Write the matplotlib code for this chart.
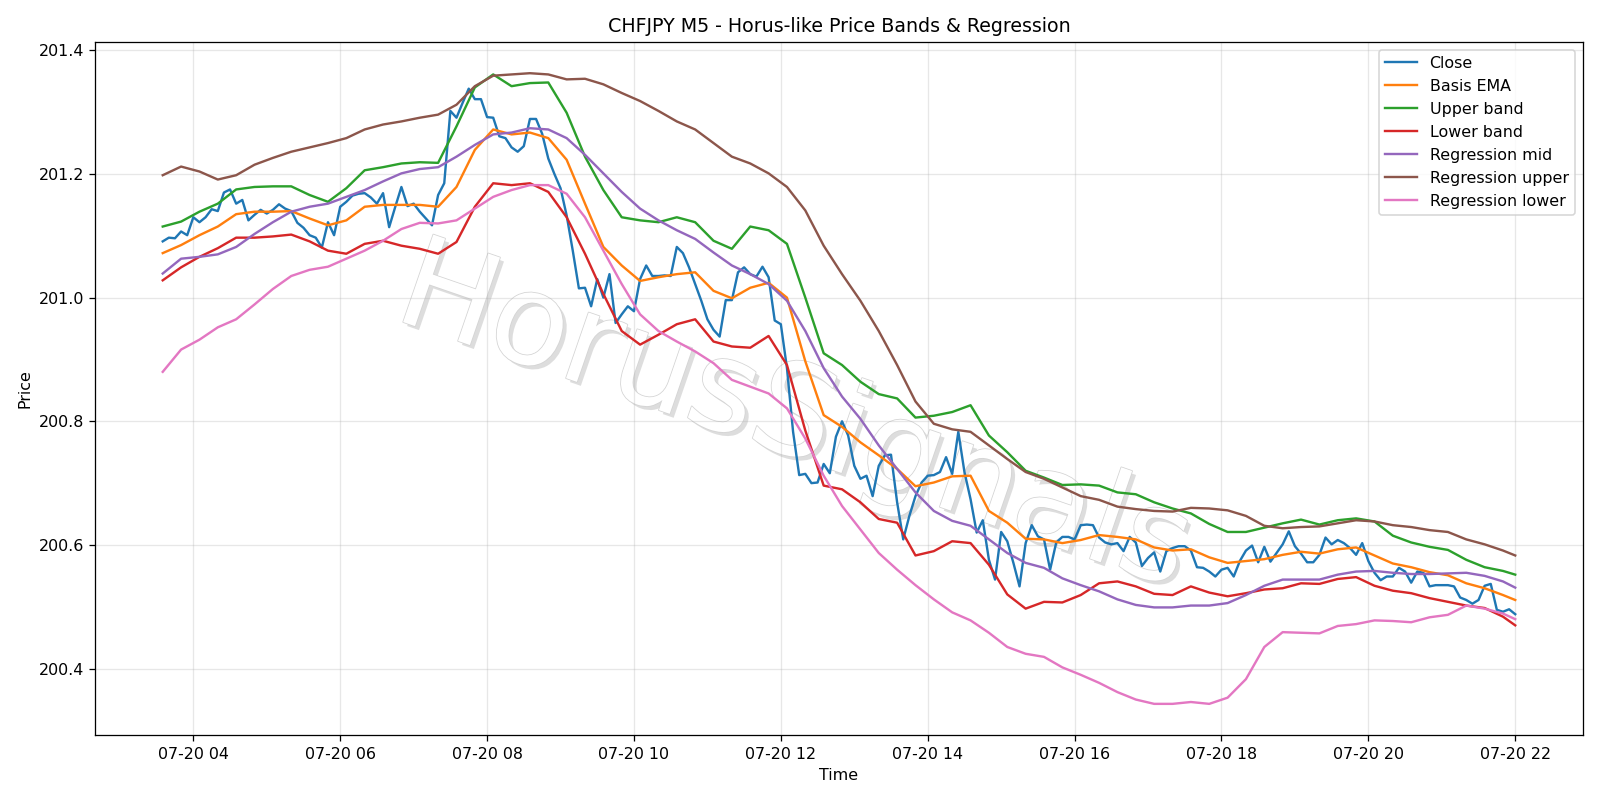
import matplotlib
matplotlib.use("Agg")
import matplotlib.pyplot as plt
import matplotlib.dates as mdates
import matplotlib.patheffects as pe
import pandas as pd

start = "2024-07-20 03:35"

close = [
    201.091, 201.097, 201.096, 201.107, 201.101, 201.130, 201.122, 201.130, 201.143, 201.140,
    201.170, 201.175, 201.152, 201.158, 201.125, 201.134, 201.142, 201.136, 201.142, 201.151,
    201.144, 201.140, 201.121, 201.113, 201.101, 201.097, 201.081, 201.122, 201.101, 201.147,
    201.155, 201.165, 201.168, 201.169, 201.162, 201.152, 201.169, 201.114, 201.147, 201.179,
    201.148, 201.152, 201.139, 201.128, 201.117, 201.166, 201.185, 201.302, 201.291, 201.315,
    201.338, 201.321, 201.321, 201.292, 201.291, 201.261, 201.258, 201.243, 201.236, 201.245,
    201.289, 201.289, 201.265, 201.225, 201.200, 201.177, 201.133, 201.076, 201.015, 201.016,
    200.986, 201.030, 201.000, 201.038, 200.959, 200.973, 200.986, 200.978, 201.030, 201.052,
    201.035, 201.035, 201.036, 201.035, 201.082, 201.072, 201.049, 201.022, 200.995, 200.965,
    200.948, 200.937, 200.996, 200.996, 201.041, 201.049, 201.038, 201.034, 201.050, 201.033,
    200.963, 200.957, 200.886, 200.783, 200.713, 200.715, 200.700, 200.701, 200.731, 200.716,
    200.775, 200.800, 200.777, 200.728, 200.707, 200.712, 200.679, 200.728, 200.745, 200.746,
    200.669, 200.609, 200.647, 200.679, 200.701, 200.712, 200.713, 200.718, 200.742, 200.715,
    200.783, 200.718, 200.674, 200.620, 200.640, 200.576, 200.544, 200.621, 200.606, 200.571,
    200.533, 200.603, 200.632, 200.614, 200.609, 200.560, 200.604, 200.613, 200.613, 200.609,
    200.632, 200.633, 200.632, 200.612, 200.604, 200.601, 200.603, 200.590, 200.613, 200.604,
    200.566, 200.579, 200.588, 200.557, 200.590, 200.595, 200.598, 200.598, 200.591, 200.564,
    200.563, 200.557, 200.549, 200.560, 200.563, 200.549, 200.574, 200.591, 200.599, 200.572,
    200.597, 200.573, 200.587, 200.601, 200.622, 200.598, 200.586, 200.572, 200.572, 200.584,
    200.612, 200.601, 200.608, 200.603, 200.595, 200.584, 200.603, 200.574, 200.555, 200.543,
    200.549, 200.549, 200.563, 200.557, 200.539, 200.557, 200.555, 200.533, 200.535, 200.535,
    200.535, 200.533, 200.515, 200.511, 200.505, 200.511, 200.534, 200.537, 200.495, 200.492,
    200.496, 200.488,
]

# bar indices (5-minute steps from start) at which the smooth series were read
band_idx = list(range(0, 220, 3)) + [221]

basis = [
    201.072, 201.085, 201.101, 201.115, 201.135, 201.139, 201.139, 201.140, 201.128, 201.117,
    201.125, 201.147, 201.150, 201.150, 201.150, 201.147, 201.179, 201.239, 201.272, 201.264,
    201.267, 201.258, 201.223, 201.152, 201.082, 201.052, 201.027, 201.033, 201.038, 201.041,
    201.011, 200.999, 201.016, 201.024, 201.000, 200.897, 200.810, 200.791, 200.766, 200.745,
    200.723, 200.695, 200.701, 200.711, 200.712, 200.655, 200.636, 200.610, 200.609, 200.603,
    200.608, 200.616, 200.613, 200.609, 200.596, 200.591, 200.593, 200.580, 200.571, 200.574,
    200.577, 200.584, 200.589, 200.586, 200.593, 200.596, 200.583, 200.570, 200.564, 200.556,
    200.551, 200.538, 200.530, 200.519, 200.511,
]

upper = [
    201.115, 201.123, 201.139, 201.152, 201.175, 201.179, 201.180, 201.180, 201.166, 201.155,
    201.177, 201.206, 201.211, 201.217, 201.219, 201.218, 201.277, 201.340, 201.361, 201.342,
    201.347, 201.348, 201.299, 201.228, 201.174, 201.130, 201.125, 201.122, 201.130, 201.122,
    201.092, 201.079, 201.115, 201.109, 201.087, 201.000, 200.910, 200.891, 200.864, 200.844,
    200.837, 200.806, 200.809, 200.815, 200.826, 200.777, 200.750, 200.720, 200.709, 200.697,
    200.698, 200.696, 200.685, 200.682, 200.669, 200.659, 200.651, 200.634, 200.621, 200.621,
    200.628, 200.635, 200.641, 200.633, 200.640, 200.643, 200.638, 200.615, 200.604, 200.597,
    200.592, 200.576, 200.564, 200.558, 200.552,
]

lower = [
    201.028, 201.049, 201.066, 201.080, 201.097, 201.097, 201.099, 201.102, 201.091, 201.076,
    201.071, 201.087, 201.092, 201.084, 201.079, 201.071, 201.090, 201.147, 201.185, 201.182,
    201.185, 201.171, 201.130, 201.071, 201.006, 200.946, 200.924, 200.940, 200.957, 200.965,
    200.929, 200.921, 200.919, 200.938, 200.891, 200.785, 200.696, 200.690, 200.669, 200.642,
    200.636, 200.583, 200.590, 200.606, 200.603, 200.568, 200.520, 200.497, 200.508, 200.507,
    200.519, 200.538, 200.541, 200.533, 200.521, 200.519, 200.533, 200.523, 200.517, 200.522,
    200.528, 200.530, 200.538, 200.537, 200.545, 200.548, 200.534, 200.526, 200.522, 200.514,
    200.508, 200.502, 200.498, 200.484, 200.470,
]

reg_mid = [
    201.039, 201.063, 201.066, 201.070, 201.082, 201.103, 201.122, 201.139, 201.147, 201.152,
    201.163, 201.174, 201.188, 201.201, 201.208, 201.211, 201.228, 201.247, 201.264, 201.267,
    201.274, 201.272, 201.258, 201.231, 201.201, 201.171, 201.144, 201.125, 201.109, 201.095,
    201.073, 201.052, 201.038, 201.022, 200.995, 200.946, 200.886, 200.840, 200.804, 200.761,
    200.723, 200.685, 200.655, 200.639, 200.631, 200.609, 200.587, 200.571, 200.563, 200.546,
    200.535, 200.525, 200.512, 200.503, 200.499, 200.499, 200.502, 200.502, 200.506, 200.519,
    200.534, 200.544, 200.544, 200.544, 200.552, 200.557, 200.558, 200.555, 200.553, 200.553,
    200.554, 200.555, 200.550, 200.541, 200.531,
]

reg_upper = [
    201.198, 201.212, 201.204, 201.191, 201.198, 201.215, 201.226, 201.236, 201.243, 201.250,
    201.258, 201.272, 201.280, 201.285, 201.291, 201.296, 201.312, 201.342, 201.359, 201.361,
    201.363, 201.361, 201.353, 201.354, 201.345, 201.331, 201.318, 201.302, 201.285, 201.272,
    201.250, 201.228, 201.217, 201.201, 201.179, 201.141, 201.084, 201.038, 200.995, 200.946,
    200.891, 200.832, 200.796, 200.787, 200.783, 200.761, 200.739, 200.718, 200.707, 200.693,
    200.679, 200.673, 200.662, 200.658, 200.655, 200.654, 200.660, 200.659, 200.656, 200.647,
    200.631, 200.627, 200.629, 200.630, 200.635, 200.640, 200.638, 200.632, 200.629, 200.624,
    200.621, 200.609, 200.601, 200.591, 200.583,
]

reg_lower = [
    200.880, 200.916, 200.932, 200.952, 200.965, 200.989, 201.014, 201.035, 201.045, 201.050,
    201.063, 201.076, 201.092, 201.111, 201.121, 201.120, 201.125, 201.144, 201.163, 201.174,
    201.182, 201.182, 201.168, 201.130, 201.076, 201.022, 200.973, 200.946, 200.929, 200.913,
    200.894, 200.867, 200.856, 200.845, 200.821, 200.772, 200.712, 200.663, 200.625, 200.587,
    200.560, 200.535, 200.512, 200.491, 200.478, 200.458, 200.435, 200.424, 200.419, 200.402,
    200.390, 200.377, 200.362, 200.350, 200.343, 200.343, 200.346, 200.343, 200.353, 200.383,
    200.435, 200.459, 200.458, 200.457, 200.469, 200.472, 200.478, 200.477, 200.475, 200.483,
    200.487, 200.502, 200.497, 200.489, 200.480,
]

t_close = pd.date_range(start, periods=len(close), freq="5min")
t_band = t_close[band_idx]

fig, ax = plt.subplots(figsize=(14, 7), dpi=1600 / 14)

ax.text(0.47, 0.455, "HorusSignals", transform=ax.transAxes, fontsize=80,
        color="white", rotation=-19, ha="center", va="center", zorder=1.5,
        path_effects=[pe.SimplePatchShadow(offset=(2.5, -2.5), shadow_rgbFace="#a0a0a0", alpha=0.35),
                      pe.Stroke(linewidth=1.0, foreground="#d4d4d4"),
                      pe.Normal()])

ax.plot(t_close, close, color="#1f77b4", lw=1.5, label="Close", zorder=3)
ax.plot(t_band, basis, color="#ff7f0e", lw=1.5, label="Basis EMA", zorder=3)
ax.plot(t_band, upper, color="#2ca02c", lw=1.5, label="Upper band", zorder=3)
ax.plot(t_band, lower, color="#d62728", lw=1.5, label="Lower band", zorder=3)
ax.plot(t_band, reg_mid, color="#9467bd", lw=1.5, label="Regression mid", zorder=3)
ax.plot(t_band, reg_upper, color="#8c564b", lw=1.5, label="Regression upper", zorder=3)
ax.plot(t_band, reg_lower, color="#e377c2", lw=1.5, label="Regression lower", zorder=3)

ax.xaxis.set_major_locator(mdates.HourLocator(interval=2))
ax.xaxis.set_major_formatter(mdates.DateFormatter("%m-%d %H"))
ax.grid(True, alpha=0.3)
ax.set_title("CHFJPY M5 - Horus-like Price Bands & Regression")
ax.set_xlabel("Time")
ax.set_ylabel("Price")
ax.legend(loc="upper right")

fig.tight_layout()
fig.savefig("out.png", dpi=1600 / 14)
